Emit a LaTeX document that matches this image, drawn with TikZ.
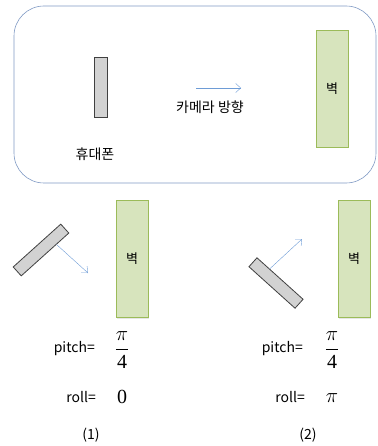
\documentclass[tikz,border=0pt]{standalone}
\usepackage{fontspec}
\usepackage{amsmath}
\usetikzlibrary{positioning,arrows.meta,calc,shadows}
\newfontfamily\kr{Noto Sans CJK KR}
\newfontfamily\digits{Liberation Serif}
\definecolor{frameblue}{RGB}{128,154,196}
\definecolor{camblue}{RGB}{110,156,214}
\definecolor{wallfill}{RGB}{215,228,189}
\definecolor{walldraw}{RGB}{155,187,89}
\definecolor{phonefill}{RGB}{210,210,210}
\definecolor{phonedraw}{RGB}{64,64,64}

\begin{document}
\begin{tikzpicture}[x=1pt, y=-1pt,
  phone/.style={draw=phonedraw, fill=phonefill, thick, inner sep=0pt,
                minimum width=#1, minimum height=12pt},
  wall/.style={draw=walldraw, fill=wallfill, thick, inner sep=0pt,
               minimum width=32pt, minimum height=117pt,
               drop shadow={opacity=0.2, shadow xshift=1.2pt, shadow yshift=-1.2pt},
               font=\kr\fontsize{13}{15}\selectfont},
  lbl/.style={font=\kr\fontsize{14}{16}\selectfont, inner sep=0pt},
  mth/.style={font=\fontsize{20}{24}\selectfont, inner sep=0pt},
  cam/.style={camblue, thin, -{Straight Barb[length=5pt, width=9pt]}},
]
\useasboundingbox (0,0) rectangle (377,446);

% top panel
\draw[frameblue, semithick, rounded corners=30pt] (14,6) rectangle (376,183);
\node[phone=13pt, minimum height=60pt] (phone) at (100.5,87) {};
\node[lbl] (phonelbl) at (95,154) {휴대폰};
\coordinate (camstart) at (196,88);
\coordinate (camend)   at (241,88);
\draw[cam] (camstart) -- (camend);
\node[lbl] (camlbl) at (210,107) {카메라 방향};
\node[wall] (wall) at (332,88.5) {벽};

% case (1)
\node[phone=64pt, rotate=42] (phoneA) at (41,250) {};
\coordinate (dirA) at (88,273);
\draw[cam] ($(phoneA.south)!0.47!(phoneA.south east)$) -- (dirA);
\node[wall] (wallA) at (132,259) {벽};
\node[lbl, anchor=east] (pitchA) at (95,349) {pitch=};
\node[mth] (pitchvalA) at (122,350) {$\dfrac{\pi}{\mbox{\digits 4}}$};
\node[lbl, anchor=east] (rollA) at (96,397) {roll=};
\node[mth] (rollvalA) at (122,397) {\digits 0};
\node[lbl] (capA) at (91,435) {(1)};

% case (2)
\node[phone=62pt, rotate=-42] (phoneB) at (276,283) {};
\coordinate (dirB) at (302,239);
\draw[cam] ($(phoneB.north)!0.45!(phoneB.north west)$) -- (dirB);
\node[wall] (wallB) at (354,259) {벽};
\node[lbl, anchor=east] (pitchB) at (303,349) {pitch=};
\node[mth] (pitchvalB) at (332,350) {$\dfrac{\pi}{\mbox{\digits 4}}$};
\node[lbl, anchor=east] (rollB) at (305,397) {roll=};
\node[mth] (rollvalB) at (332,398) {$\pi$};
\node[lbl] (capB) at (308,435) {(2)};
\end{tikzpicture}
\end{document}
